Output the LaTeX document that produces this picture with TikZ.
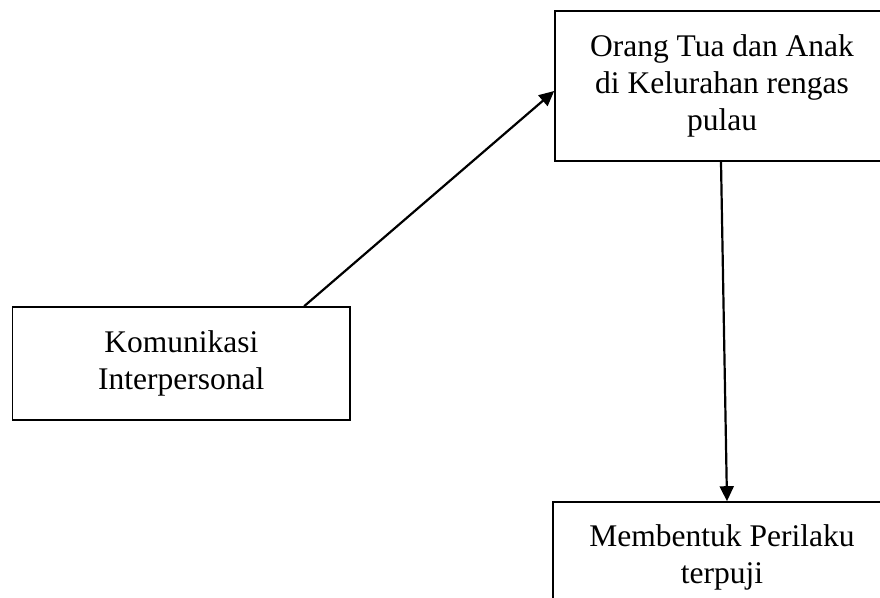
\documentclass[tikz,border=0pt]{standalone}
\usepackage{fontspec}
\setmainfont{Liberation Serif}
\usetikzlibrary{arrows.meta}
\begin{document}
\begin{tikzpicture}
[
 x=0.5pt, y=-0.5pt,
 every node/.style={font=\fontsize{15.75}{18.5}\selectfont},
 BOX/.style={rectangle, draw=black, line width=0.8pt, align=center, inner sep=0pt},
 ARROW/.style={line width=1.1pt, -{Triangle[length=7.5pt,width=7pt]}},
 ]
%
\useasboundingbox (0,0) rectangle (880,598);
\clip (0,0) rectangle (880,598);
%
\node [BOX, minimum width=168.7pt, minimum height=56.5pt]  (KOM)   at (181.3, 363.5)  {Komunikasi\\Interpersonal};
\node [BOX, minimum width=167pt, minimum height=75pt]      (ORTU)  at (722, 86)       {Orang Tua dan Anak\\di Kelurahan rengas\\pulau};
\node [BOX, minimum width=169pt, minimum height=55pt]      (HASIL) at (722, 557)      {Membentuk Perilaku\\terpuji};
%
\draw [ARROW]  (KOM.25)    -- ([yshift=-2.5pt]ORTU.west) ;
\draw [ARROW]  ([xshift=-0.5pt]ORTU.south)  -- ([xshift=2.5pt]HASIL.north) ;
\end{tikzpicture}
\end{document}
